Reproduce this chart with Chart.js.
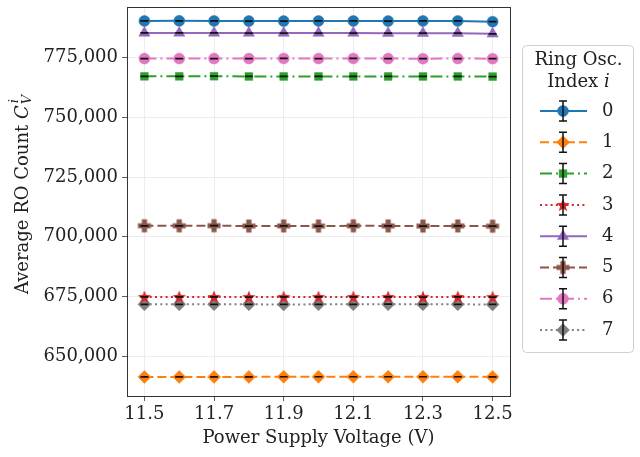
<!DOCTYPE html>
<html>
<head>
<meta charset="utf-8">
<script src="https://cdn.jsdelivr.net/npm/chart.js@4/dist/chart.umd.min.js"></script>
<style>
  html, body { margin: 0; padding: 0; background: #fff; }
  #wrap { width: 640px; height: 457px; }
</style>
</head>
<body>
<div id="wrap"><canvas id="myChart" width="640" height="457"></canvas></div>
<script>
// data
const voltages = [11.5, 11.6, 11.7, 11.8, 11.9, 12.0, 12.1, 12.2, 12.3, 12.4, 12.5];
const xTicks = [11.5, 11.7, 11.9, 12.1, 12.3, 12.5];
const yTicks = [650000, 675000, 700000, 725000, 750000, 775000];
const ringNames = ['0', '1', '2', '3', '4', '5', '6', '7'];

const count0 = [790400, 790450, 790400, 790350, 790350, 790400, 790400, 790350, 790400, 790400, 790100];
const count1 = [641300, 641300, 641300, 641300, 641350, 641350, 641350, 641350, 641350, 641350, 641300];
const count2 = [767200, 767200, 767250, 767150, 767150, 767150, 767150, 767150, 767150, 767150, 767100];
const count3 = [674800, 674800, 674800, 674750, 674800, 674800, 674800, 674800, 674750, 674800, 674750];
const count4 = [785400, 785400, 785400, 785350, 785350, 785350, 785350, 785300, 785300, 785300, 785000];
const count5 = [704600, 704600, 704650, 704500, 704550, 704500, 704600, 704550, 704500, 704550, 704450];
const count6 = [774650, 774650, 774650, 774650, 774700, 774650, 774700, 774650, 774600, 774650, 774600];
const count7 = [671700, 671700, 671700, 671700, 671650, 671700, 671700, 671750, 671700, 671700, 671650];

const errSize = [120, 100, 120, 100, 120, 120, 120, 100];

const colors = ['#1f77b4', '#ff7f0e', '#2ca02c', '#d62728', '#9467bd', '#8c564b', '#e377c2', '#7f7f7f'];
const dashes = [[], [9, 4], [12, 4, 2, 4], [2, 3.3], [], [9, 4], [12, 4, 2, 4], [2, 3.3]];

const font = '"DejaVu Serif", "Liberation Serif", serif';
const fontSize = 18;

// custom marker pictures for star and filled plus
function markerCanvas(kind, color) {
  const c = document.createElement('canvas');
  const s = 16;
  c.width = s; c.height = s;
  const g = c.getContext('2d');
  g.fillStyle = color;
  g.beginPath();
  if (kind === 'star') {
    for (let k = 0; k < 10; k++) {
      const r = k % 2 === 0 ? 7 : 3;
      const a = -Math.PI / 2 + k * Math.PI / 5;
      const px = 8 + r * Math.cos(a), py = 8.5 + r * Math.sin(a);
      if (k === 0) g.moveTo(px, py); else g.lineTo(px, py);
    }
  } else {
    const a = 2.6, b = 6.5;
    g.moveTo(8 - a, 8 - b); g.lineTo(8 + a, 8 - b); g.lineTo(8 + a, 8 - a);
    g.lineTo(8 + b, 8 - a); g.lineTo(8 + b, 8 + a); g.lineTo(8 + a, 8 + a);
    g.lineTo(8 + a, 8 + b); g.lineTo(8 - a, 8 + b); g.lineTo(8 - a, 8 + a);
    g.lineTo(8 - b, 8 + a); g.lineTo(8 - b, 8 - a); g.lineTo(8 - a, 8 - a);
  }
  g.closePath();
  g.fill();
  return c;
}

const allCounts = [count0, count1, count2, count3, count4, count5, count6, count7];
const pointStyles = ['circle', 'rectRot', 'rect', markerCanvas('star', colors[3]), 'triangle',
  markerCanvas('plus', colors[5]), 'circle', 'rectRot'];
const pointRadius = [5.5, 6.5, 5.5, 6, 6.5, 6, 5.5, 6.5];

const datasets = allCounts.map((arr, i) => ({
  label: ringNames[i],
  data: voltages.map((v, j) => ({ x: v, y: arr[j] })),
  borderColor: colors[i],
  backgroundColor: colors[i],
  pointBorderColor: colors[i],
  pointBackgroundColor: colors[i],
  borderWidth: 2,
  borderDash: dashes[i],
  pointStyle: pointStyles[i],
  pointRadius: pointRadius[i],
  pointBorderWidth: 0.5,
  pointHoverRadius: pointRadius[i],
  tension: 0
}));

function drawErrorBar(ctx, x, yTop, yBot, cap) {
  ctx.beginPath();
  ctx.moveTo(x, yTop); ctx.lineTo(x, yBot);
  ctx.moveTo(x - cap, yTop); ctx.lineTo(x + cap, yTop);
  ctx.moveTo(x - cap, yBot); ctx.lineTo(x + cap, yBot);
  ctx.stroke();
}

const extrasPlugin = {
  id: 'extras',
  afterDatasetsDraw(chart) {
    const ctx = chart.ctx;
    const xs = chart.scales.x, ys = chart.scales.y;
    ctx.save();
    ctx.strokeStyle = '#111';
    ctx.lineWidth = 1.2;
    ctx.setLineDash([]);
    allCounts.forEach((arr, i) => {
      voltages.forEach((v, j) => {
        const px = xs.getPixelForValue(v);
        drawErrorBar(ctx, px, ys.getPixelForValue(arr[j] + errSize[i]), ys.getPixelForValue(arr[j] - errSize[i]), 4);
      });
    });
    // frame around plot
    const a = chart.chartArea;
    ctx.strokeStyle = '#333';
    ctx.lineWidth = 1;
    ctx.strokeRect(a.left + 0.5, a.top + 0.5, a.right - a.left, a.bottom - a.top);
    ctx.restore();
  },
  afterDraw(chart) {
    const ctx = chart.ctx;
    ctx.save();
    ctx.fillStyle = '#222';
    ctx.textBaseline = 'middle';
    // y axis title with C_V^i
    const normal = fontSize + 'px ' + font;
    const ital = 'italic ' + fontSize + 'px ' + font;
    const small = 'italic 13px ' + font;
    ctx.font = normal;
    const t1 = 'Average RO Count ';
    const w1 = ctx.measureText(t1).width;
    ctx.font = ital;
    const wC = ctx.measureText('C').width;
    ctx.font = small;
    const wS = ctx.measureText('V').width;
    const total = w1 + wC + wS + 2;
    ctx.translate(23, 194);
    ctx.rotate(-Math.PI / 2);
    let px = -total / 2;
    ctx.textAlign = 'left';
    ctx.font = normal; ctx.fillText(t1, px, 0); px += w1;
    ctx.font = ital; ctx.fillText('C', px, 0); px += wC + 1;
    ctx.font = small; ctx.fillText('i', px + 1, -8); ctx.fillText('V', px, 5);
    ctx.setTransform(1, 0, 0, 1, 0, 0);

    // legend
    const lx = 522, ly = 45, lw = 111, lh = 307;
    ctx.beginPath();
    ctx.roundRect(lx + 0.5, ly + 0.5, lw, lh, 4);
    ctx.fillStyle = '#fff';
    ctx.fill();
    ctx.strokeStyle = '#d0d0d0';
    ctx.lineWidth = 1;
    ctx.stroke();
    ctx.fillStyle = '#222';
    ctx.textAlign = 'center';
    ctx.font = normal;
    ctx.fillText('Ring Osc.', lx + lw / 2 + 1, 60);
    ctx.textAlign = 'left';
    const ti = 'Index ';
    const wi = ctx.measureText(ti).width;
    ctx.font = ital;
    const wI = ctx.measureText('i').width;
    let sx = lx + lw / 2 + 1 - (wi + wI) / 2;
    ctx.font = normal; ctx.fillText(ti, sx, 82);
    ctx.font = ital; ctx.fillText('i', sx + wi, 82);

    ringNames.forEach((name, i) => {
      const y = 111 + i * 31.3;
      ctx.strokeStyle = colors[i];
      ctx.lineWidth = 2;
      ctx.setLineDash(dashes[i]);
      ctx.beginPath();
      ctx.moveTo(540, y); ctx.lineTo(587, y);
      ctx.stroke();
      ctx.setLineDash([]);
      ctx.fillStyle = colors[i];
      ctx.strokeStyle = colors[i];
      ctx.lineWidth = 0.5;
      Chart.helpers.drawPoint(ctx, { pointStyle: pointStyles[i], radius: pointRadius[i], rotation: 0, borderWidth: 0.5 }, 563, y);
      ctx.strokeStyle = '#111';
      ctx.lineWidth = 1.5;
      drawErrorBar(ctx, 563, y - 10, y + 10, 4);
      ctx.fillStyle = '#222';
      ctx.font = normal;
      ctx.fillText(name, 602, y);
    });
    ctx.restore();
  }
};

const ctx = document.getElementById('myChart');

const myChart = new Chart(ctx, {
  type: 'line',
  data: { datasets: datasets },
  options: {
    responsive: false,
    animation: false,
    layout: { padding: { top: 5, right: 130, left: 0, bottom: 0 } },
    plugins: { legend: { display: false }, tooltip: { enabled: false } },
    scales: {
      x: {
        type: 'linear',
        min: 11.45,
        max: 12.55,
        afterBuildTicks: s => { s.ticks = xTicks.map(v => ({ value: v })); },
        afterFit: s => { s.height = 61; s.paddingLeft = 0; s.paddingRight = 0; },
        ticks: {
          callback: v => Number(v).toFixed(1),
          font: { family: font, size: fontSize },
          color: '#222',
          padding: 3,
          maxRotation: 0
        },
        grid: { color: '#e8e8e8', lineWidth: 0.8, tickColor: '#333', tickLength: 5 },
        border: { display: false },
        title: {
          display: true,
          text: 'Power Supply Voltage (V)',
          font: { family: font, size: fontSize },
          color: '#222',
          padding: { top: 0, bottom: 8 }
        }
      },
      y: {
        type: 'linear',
        min: 633300,
        max: 796250,
        afterBuildTicks: s => { s.ticks = yTicks.map(v => ({ value: v })); },
        afterFit: s => { s.width = 127; s.paddingTop = 0; s.paddingBottom = 0; },
        ticks: {
          callback: v => Number(v).toLocaleString('en-US'),
          font: { family: font, size: fontSize },
          color: '#222',
          padding: 4
        },
        grid: { color: '#e8e8e8', lineWidth: 0.8, tickColor: '#333', tickLength: 5 },
        border: { display: false }
      }
    }
  },
  plugins: [extrasPlugin]
});
</script>
</body>
</html>
